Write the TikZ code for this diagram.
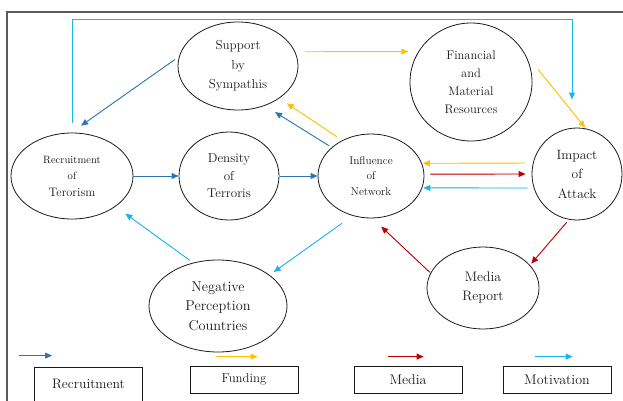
\documentclass[tikz,border=0pt]{standalone}
\usetikzlibrary{arrows.meta,shapes.geometric,calc}
\definecolor{ink}{HTML}{1A1A1A}
\definecolor{recblue}{HTML}{2E75B6}
\definecolor{fundyel}{HTML}{FFC000}
\definecolor{medred}{HTML}{C00000}
\definecolor{motblue}{HTML}{1DB4EE}
\definecolor{framegray}{HTML}{5A5A5A}
\tikzset{
  bub/.style={draw=ink, line width=0.8pt, ellipse, inner sep=0pt, align=center, text=ink},
  legbox/.style={draw=ink, line width=0.8pt, minimum width=108pt, minimum height=27pt,
                 inner sep=0pt, text=ink},
  arr/.style={-{Triangle[length=7pt, width=6pt]}, line width=0.9pt},
  recarr/.style={arr, draw=recblue, fill=recblue},
  fundarr/.style={arr, draw=fundyel, fill=fundyel},
  medarr/.style={arr, draw=medred, fill=medred},
  motarr/.style={arr, draw=motblue, fill=motblue},
}

\begin{document}
\begin{tikzpicture}[x=1pt, y=1pt]
\useasboundingbox (0,0) rectangle (623,400);

% outer frame, cut by the page
\draw[framegray, line width=1.2pt] (7,-20) rectangle (650,388);

% factors
\node[bub, minimum width=120pt, minimum height=88pt, font=\fontsize{13}{19.5}\selectfont]
  (sup) at (238,334) {Support\\ by\\ Sympathis};
\node[bub, minimum width=122pt, minimum height=118pt, font=\fontsize{12.5}{18}\selectfont]
  (fin) at (471,318) {Financial\\ and\\ Material\\ Resources};
\node[bub, minimum width=122pt, minimum height=86pt, font=\fontsize{12.3}{16.5}\selectfont]
  (rec) at (72,224) {{\fontsize{10.6}{16.5}\selectfont Recruitment}\\ {\fontsize{10.6}{16.5}\selectfont of}\\ Terorism};
\node[bub, minimum width=100pt, minimum height=88pt, font=\fontsize{13}{17.5}\selectfont]
  (den) at (229,224) {Density\\ of\\ Terroris};
\node[bub, minimum width=106pt, minimum height=84pt, font=\fontsize{11.3}{15.5}\selectfont]
  (inf) at (371,224) {Influence\\ of\\ Network};
\node[bub, minimum width=90pt, minimum height=92pt, font=\fontsize{13.5}{19.5}\selectfont]
  (imp) at (577,226) {Impact\\ of\\ Attack};
\node[bub, minimum width=138pt, minimum height=92pt, font=\fontsize{14.3}{19.5}\selectfont]
  (neg) at (218,94) {Negative\\ Perception\\ Countries};
\node[bub, minimum width=112pt, minimum height=82pt, font=\fontsize{13.8}{19}\selectfont]
  (med) at (483,112) {Media\\ Report};

% legend
\node[legbox, minimum height=34pt, font=\fontsize{13.7}{16}\selectfont] (lrec) at (88.5,16) {Recruitment};
\node[legbox, font=\fontsize{12.8}{15}\selectfont] (lfund) at (244,20.5) {Funding};
\node[legbox, font=\fontsize{14}{16}\selectfont] (lmed) at (408,20.5) {Media};
\node[legbox, font=\fontsize{14}{16}\selectfont] (lmot) at (557,20.5) {Motivation};

\draw[recarr] ([shift={(-15pt,11pt)}]lrec.north west) -- ++(33,0);
\draw[fundarr] ([shift={(26pt,9pt)}]lfund.north west) -- ++(42,0);
\draw[medarr] ([shift={(34pt,9pt)}]lmed.north west) -- ++(36,0);
\draw[motarr] ([shift={(32pt,9pt)}]lmot.north west) -- ++(38,0);

% links
\coordinate (looptop) at (0,381);
\draw[motarr, fill=none] ([yshift=10pt]rec.north) -- (rec.north |- looptop)
  -| ([xshift=-5pt,yshift=28pt]imp.north);
\draw[recarr, shorten <=5pt, shorten >=12pt] (sup.171) -- (rec.91);
\draw[fundarr, shorten <=10pt, shorten >=10pt] (sup.14) -- (fin.150);
\draw[fundarr, shorten <=22pt, shorten >=1pt] (fin.29) -- (imp.79);
\draw[recarr, shorten <=3pt, shorten >=12pt] (inf.144) -- (sup.304);
\draw[fundarr, shorten <=6pt, shorten >=9pt] (inf.129) -- (sup.322);
\draw[recarr] (rec) -- (den);
\draw[recarr, shorten <=1pt] (den) -- (inf);
\draw[fundarr, shorten <=8pt, shorten >=1pt] (imp.166) -- (inf.14.5);
\draw[medarr, shorten <=6pt, shorten >=6pt] (inf.2) -- (imp.180);
\draw[motarr, shorten <=6pt, shorten >=1pt] (imp.198) -- (inf.347);
\draw[motarr, shorten <=4pt, shorten >=12pt] (neg.120) -- (rec.325);
\draw[motarr, shorten <=13pt, shorten >=5pt] (inf.245) -- (neg.31);
\draw[medarr, shorten <=1pt, shorten >=12pt] (med.164) -- (inf.272);
\draw[medarr, shorten <=3.5pt, shorten >=2pt] (imp.260) -- (med.26);

\end{tikzpicture}
\end{document}
